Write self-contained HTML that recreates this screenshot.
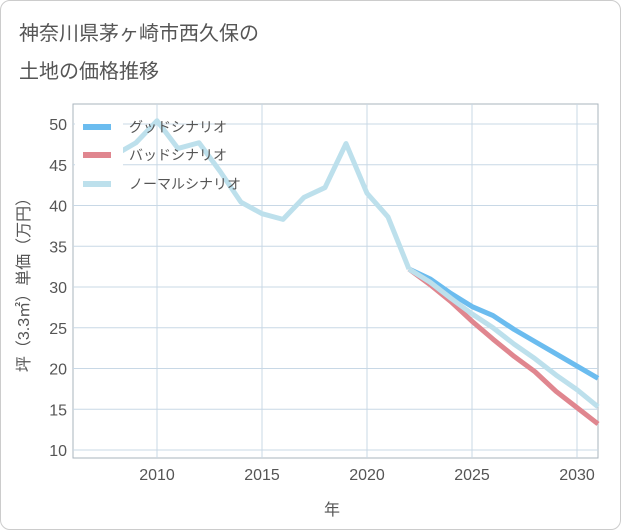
<!DOCTYPE html>
<html><head><meta charset="utf-8"><style>
body{margin:0;background:#fff;font-family:"Liberation Sans","Noto Sans CJK JP",sans-serif;}
#wrap{position:relative;width:619px;height:528px;border:1px solid #ccc;border-radius:10px;overflow:hidden;}
</style></head><body>
<div id="wrap">
<svg id="c" width="621" height="530">
<text x="18" y="39" font-size="20" fill="#555">神奈川県茅ヶ崎市西久保の</text>
<text x="18" y="77" font-size="20" fill="#555">土地の価格推移</text>
<g id="grid"></g><g id="lines"></g>
<text x="331" y="514" font-size="16" fill="#555" text-anchor="middle">年</text>
<text transform="translate(28,280) rotate(-90)" font-size="16" fill="#555" text-anchor="middle">坪（3.3㎡）単価（万円）</text>
<g id="legend"></g>
</svg></div>
<script>
const years=[2008,2009,2010,2011,2012,2013,2014,2015,2016,2017,2018,2019,2020,2021,2022];
const histValues=[46.2,47.7,50.4,47,47.7,44.2,40.4,39,38.3,41,42.2,47.6,41.5,38.6,32.2];
const futYears=[2022,2023,2024,2025,2026,2027,2028,2029,2030,2031];
const goodValues=[32.2,31,29.2,27.6,26.5,24.8,23.3,21.8,20.3,18.8];
const badValues=[32.2,30.3,28.2,25.8,23.6,21.5,19.6,17.2,15.2,13.2];
const normalValues=[32.2,30.6,28.6,26.7,25,23,21.2,19.2,17.4,15.3];
const xTicks=[2010,2015,2020,2025,2030];
const yTicks=[10,15,20,25,30,35,40,45,50];
const NS='http://www.w3.org/2000/svg';
const L=72,R=597,T=103,B=457;
const x=v=>L+(v-2006)*(R-L)/25;
const y=v=>449-(v-10)*(449-123)/40;
function mk(t,a,p){const e=document.createElementNS(NS,t);for(const k in a)e.setAttribute(k,a[k]);p.appendChild(e);return e;}
const g=document.getElementById('grid');
const bg=mk('rect',{x:L,y:T,width:R-L,height:B-T,fill:'#fff',stroke:'#aab4be'},g);


yTicks.forEach(v=>{
 const ln=mk('line',{x1:L,x2:R,y1:y(v),y2:y(v),stroke:'#c8d8e6'},g);
 
 
 const t=mk('text',{x:L-6,y:y(v)+6,'font-size':16,fill:'#555','text-anchor':'end'},g);t.textContent=v;
 
 
});
xTicks.forEach(v=>{
 const ln=mk('line',{y1:T,y2:B,x1:x(v),x2:x(v),stroke:'#c8d8e6'},g);
 
 
 const t=mk('text',{x:x(v),y:B+22,'font-size':16,fill:'#555','text-anchor':'middle'},g);t.textContent=v;
 
 
});
const lg=document.getElementById('lines');
function line(xs,vs,col,name){
 const p=mk('polyline',{points:xs.map((d,i)=>x(d)+','+y(vs[i])).join(' '),fill:'none',stroke:col,'stroke-width':5,'stroke-linejoin':'round'},lg);
 
 
}
line(futYears,goodValues,'#6bbcef','good-scenario-line');
line(futYears,badValues,'#e0868f','bad-scenario-line');
line(futYears,normalValues,'#bde0ec','normal-scenario-line');
line(years,histValues,'#bde0ec','historical-line');
const lgd=document.getElementById('legend');
const lb=mk('rect',{x:74,y:108,width:48,height:92,fill:'#fff'},lgd);


[['グッドシナリオ','#6bbcef',126],['バッドシナリオ','#e0868f',154],['ノーマルシナリオ','#bde0ec',183]].forEach(([n,c,yy])=>{
 const r=mk('rect',{x:82,y:yy-3,width:28,height:6,fill:c},lgd);
 
 
 const t=mk('text',{x:128,y:yy+5,'font-size':14,fill:'#555'},lgd);t.textContent=n;
 
 
});
</script>
</body></html>
